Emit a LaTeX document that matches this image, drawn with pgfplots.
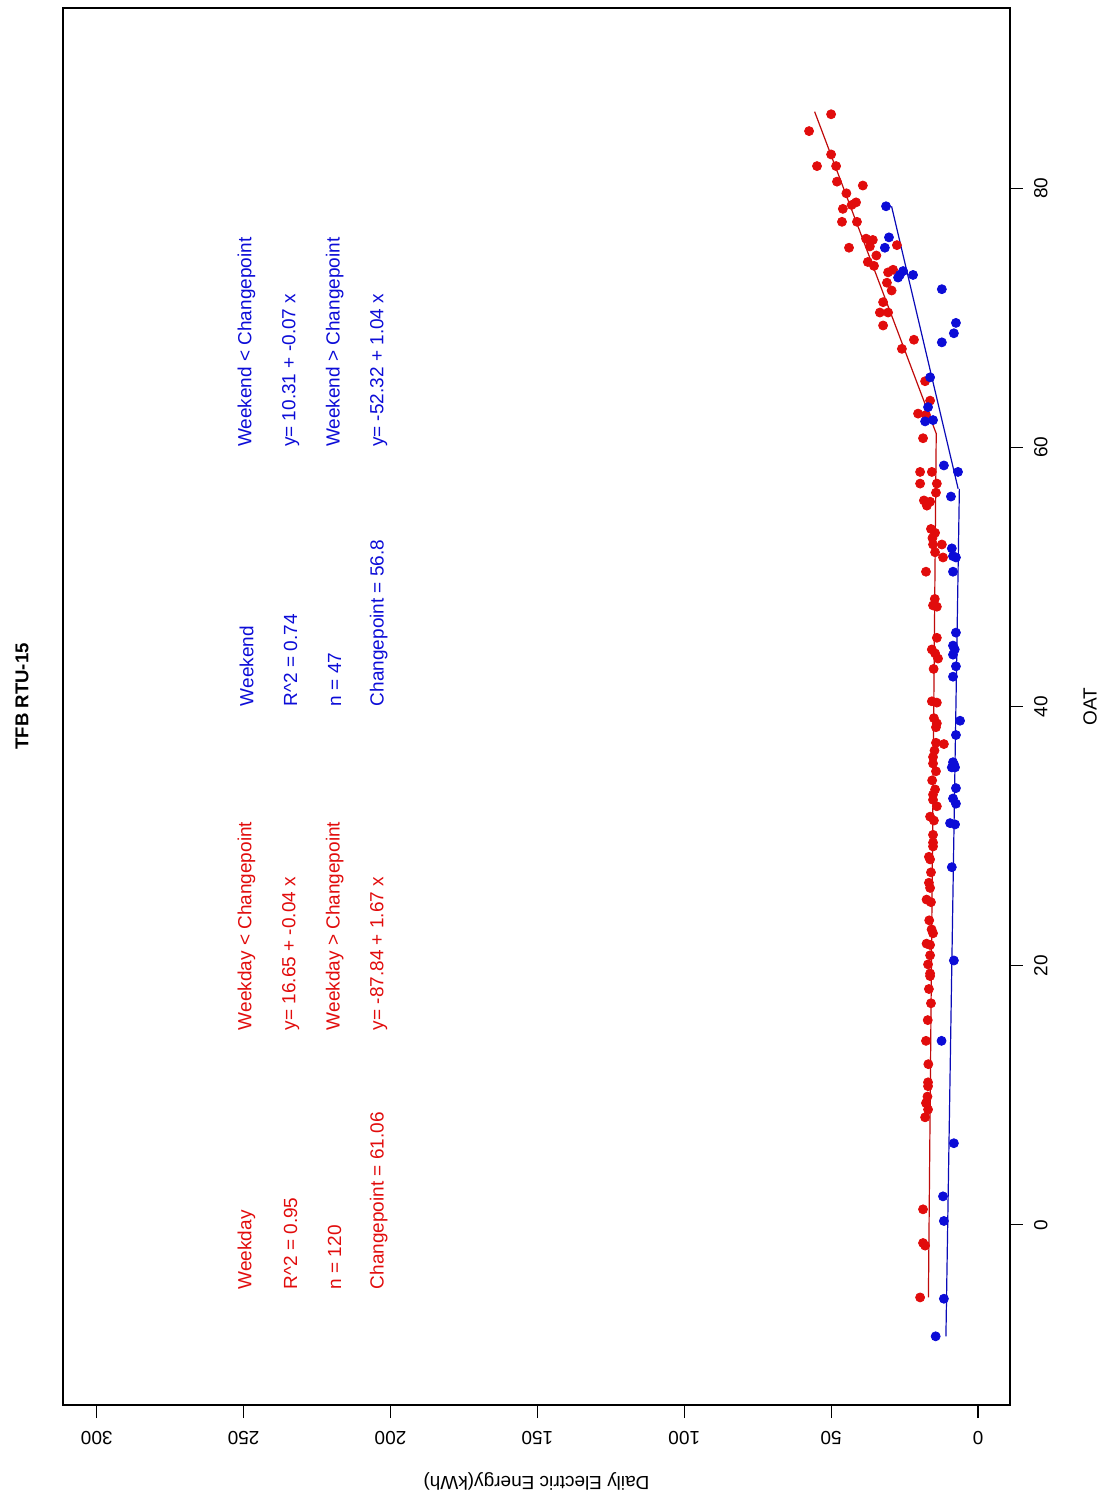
\documentclass[border=0pt]{standalone}
\usepackage{pgfplots}
\pgfplotsset{compat=1.18}
\usepackage{fontspec}
\setmainfont{Liberation Sans}
\usetikzlibrary{calc}
\definecolor{rred}{RGB}{225,12,12}
\definecolor{rblue}{RGB}{12,12,215}
\begin{document}
\begin{tikzpicture}[font=\fontsize{9.5}{11}\selectfont]
\begin{axis}[name=ax, scale only axis, width=473.5pt, height=698.5pt,
 xmin=-10.9, xmax=311.5, ymin=-13.9, ymax=93.9, x dir=reverse,
 xtick={0,50,...,300}, ytick={0,20,...,80},
 xtick pos=bottom, ytick pos=right, yticklabel pos=right,
 tick align=outside, major tick length=6.5pt,
 xticklabel style={rotate=180, anchor=south},
 yticklabel style={rotate=90, anchor=north},
 xticklabel shift=3pt, yticklabel shift=2pt,
 /pgf/number format/assume math mode=true,
 tick label style={font=\fontsize{9.5}{11}\selectfont},
 axis line style={black, line width=0.6pt},
 tick style={black, line width=0.6pt},
 clip=false]
% weekday points (energy, OAT)
\addplot[only marks, mark=*, mark size=2.25pt, mark options={draw=rred, fill=rred}] coordinates {
(50.0,85.7) (57.5,84.4) (50.0,82.6) (54.8,81.7) (48.3,81.7) (48.0,80.5) (39.2,80.2)
(46.0,78.4) (43.0,78.7) (41.5,78.9) (46.3,77.4) (41.2,77.4) (38.1,76.1) (35.8,76.0)
(36.8,75.5) (43.9,75.4) (27.6,75.6) (37.5,74.3) (35.4,74.0) (30.6,73.5) (28.9,73.7)
(31.0,72.7) (32.3,71.2) (33.4,70.4) (30.6,70.4) (32.3,69.4) (21.8,68.3) (25.9,67.6)
(18.0,65.1) (16.3,63.6) (20.4,62.6) (17.7,62.5) (18.7,60.7) (19.7,58.1) (15.7,58.1)
(19.7,57.2) (14.0,57.2) (14.3,56.5) (18.4,55.9) (16.3,55.8) (17.4,55.5) (16.0,53.7)
(14.6,53.4) (15.3,52.5) (12.3,52.5) (14.6,51.9) (11.9,51.5) (17.7,50.4) (15.3,47.8)
(14.0,47.7) (14.0,45.3) (15.7,44.4) (14.6,44.1) (13.6,43.7) (15.7,40.4) (14.0,40.3)
(15.0,39.1) (14.0,38.7) (14.3,38.4) (14.3,37.2) (11.6,37.1) (15.3,36.1) (15.3,35.6)
(14.3,35.0) (14.6,33.6) (15.3,33.2) (15.3,32.8) (14.0,32.3) (16.3,31.5) (15.0,31.2)
(15.3,30.1) (15.3,29.5) (15.3,29.2) (16.7,28.4) (16.3,28.2) (16.7,26.4) (16.3,26.0)
(17.5,25.1) (16.0,24.9) (15.8,22.8) (15.3,22.5) (17.5,21.7) (16.3,21.6) (16.3,20.8)
(17.0,20.1) (16.3,19.4) (16.3,19.2) (16.7,18.2) (16.0,17.1) (17.1,15.8) (17.7,14.2)
(17.0,11.0) (17.0,10.7) (17.7,9.4) (17.0,8.9) (18.0,8.3) (18.7,1.2) (18.7,-1.4)
(18.0,-1.6) (19.7,-5.6)
(14.8,36.6) (15.6,34.3) (16.0,27.2) (16.6,23.5) (15.1,42.9) (14.7,48.3) (15.5,53.0)
(16.9,12.4) (17.2,9.9) (29.4,72.1) (34.6,74.8) (44.8,79.6)
};
% weekend points
\addplot[only marks, mark=*, mark size=2.25pt, mark options={draw=rblue, fill=rblue}] coordinates {
(31.3,78.6) (30.3,76.2) (31.7,75.4) (25.5,73.6) (26.6,73.3) (27.2,73.1) (22.1,73.3)
(12.3,72.2) (7.5,69.6) (8.2,68.8) (12.3,68.1) (16.3,65.4) (17.0,63.1) (18.0,62.0)
(15.3,62.1) (11.6,58.6) (6.8,58.1) (9.2,56.2) (8.9,52.2) (8.5,51.6) (7.5,51.5)
(8.5,50.4) (7.5,45.7) (8.5,44.7) (8.5,44.0) (7.5,43.1) (8.5,42.3) (6.1,38.9)
(7.5,37.8) (8.5,35.7) (8.9,35.3) (7.8,35.3) (7.5,33.7) (8.5,32.9) (7.5,32.5)
(9.5,31.0) (7.8,30.9) (8.9,27.6) (8.2,20.4) (12.4,14.2) (8.2,6.3) (11.9,2.2)
(11.6,0.3) (11.6,-5.7) (14.4,-8.6) (8.1,35.5) (7.9,44.4)
};
% fitted lines
\addplot[rred!85!black, line width=0.6pt] coordinates {(16.87,-5.6) (14.21,61.06) (55.61,85.9)};
\addplot[rblue!85!black, line width=0.6pt] coordinates {(10.91,-8.6) (6.33,56.8)};
\addplot[rblue!85!black, line width=0.6pt] coordinates {(6.75,56.8) (29.42,78.6)};
% annotations
\begin{scope}[every node/.style={rotate=90, anchor=west, inner sep=0pt}]
\node[text=rred] at (axis cs:249,-5) {Weekday};
\node[text=rred] at (axis cs:234,-5) {R\textasciicircum 2 = 0.95};
\node[text=rred] at (axis cs:219,-5) {n = 120};
\node[text=rred] at (axis cs:204,-5) {Changepoint = 61.06};
\node[text=rred] at (axis cs:249,15) {Weekday < Changepoint};
\node[text=rred] at (axis cs:234,15) {y= 16.65 + -0.04 x};
\node[text=rred] at (axis cs:219,15) {Weekday > Changepoint};
\node[text=rred] at (axis cs:204,15) {y= -87.84 + 1.67 x};
\node[text=rblue] at (axis cs:249,40) {Weekend};
\node[text=rblue] at (axis cs:234,40) {R\textasciicircum 2 = 0.74};
\node[text=rblue] at (axis cs:219,40) {n = 47};
\node[text=rblue] at (axis cs:204,40) {Changepoint = 56.8};
\node[text=rblue] at (axis cs:249,60) {Weekend < Changepoint};
\node[text=rblue] at (axis cs:234,60) {y= 10.31 + -0.07 x};
\node[text=rblue] at (axis cs:219,60) {Weekend > Changepoint};
\node[text=rblue] at (axis cs:204,60) {y= -52.32 + 1.04 x};
\end{scope}
\end{axis}
\node[rotate=180] at ($(ax.south)+(0,-38pt)$) {Daily Electric Energy(kWh)};
\node[rotate=90] at ($(ax.east)+(40pt,0)$) {OAT};
\node[rotate=90, font=\fontsize{9.3}{11}\selectfont\bfseries] at ($(ax.west)+(-20.5pt,5pt)$) {TFB RTU-15};
\pgfresetboundingbox
\path ($(ax.south west)+(-31.5pt,-46pt)$) rectangle ($(ax.north east)+(47pt,4pt)$);
\end{tikzpicture}
\end{document}
